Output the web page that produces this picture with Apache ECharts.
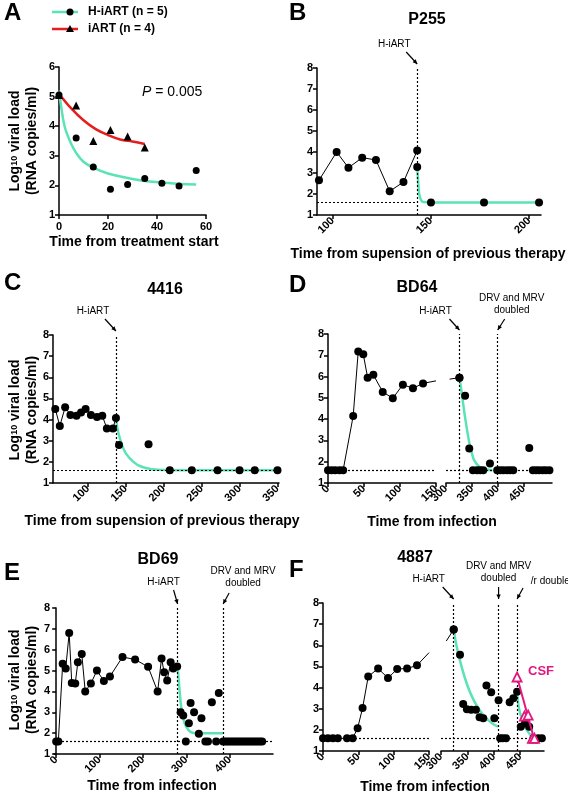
<!DOCTYPE html>
<html><head><meta charset="utf-8">
<script src="https://cdn.jsdelivr.net/npm/echarts@6/dist/echarts.min.js"></script>
<style>html,body{margin:0;padding:0;background:#fff}#c{width:568px;height:800px}</style>
</head><body><div id="c"></div>
<script>
const LOD = 1.6;
// Panel A
const aHX = [0,7,14,21,28,35,42,49,56];
const aHY = [5.05,3.6,2.62,1.87,2.03,2.23,2.07,1.98,2.5];
const aIX = [0,7,14,21,28,35];
const aIY = [5.05,4.7,3.5,3.87,3.65,3.28];
const aHFitX = [0,1,2,3,5,7,10,14,20,28,35,42,49,56];
const aHFitY = [5.2,4.6,4.1,3.8,3.4,3.1,2.8,2.6,2.4,2.25,2.15,2.1,2.05,2.03];
const aIFitX = [0,5,10,15,20,25,30,35];
const aIFitY = [5.1,4.6,4.2,3.9,3.7,3.55,3.48,3.4];
// Panel B (P255)
const bX = [93,102,108,115,122,129,136,143];
const bY = [2.65,4.0,3.25,3.73,3.62,2.13,2.57,4.07];
const bPostX = [143,150,177,205];
const bPostY = [3.28,1.6,1.6,1.6];
const bFitX = [143,143.5,144,145,146,150,177,205];
const bFitY = [3.3,2.6,2.0,1.7,1.62,1.6,1.6,1.6];
const bStart = 143;
// Panel C (4416)
const cX = [57,63,70,77,85,91,97,104,112,119,125,133,137];
const cY = [4.5,3.7,4.58,4.22,4.18,4.33,4.5,4.22,4.12,4.18,3.58,3.58,4.08];
const cPostX = [141,180,208,237,271,300,320,350];
const cPostY = [2.8,2.83,1.6,1.6,1.6,1.6,1.6,1.6];
const cFitX = [137,140,145,150,160,170,185,200,250,350];
const cFitY = [4.08,3.4,2.8,2.4,2.0,1.78,1.65,1.61,1.6,1.6];
const cStart = 137;
// Panel D (BD64)
const dX = [0,5,10,16,21,35,42,49,55,63,76,90,104,118,132,150];
const dY = [1.6,1.6,1.6,1.6,1.6,4.15,7.18,7.05,5.95,6.08,5.28,4.98,5.62,5.45,5.68,5.8];
const dRX = [307,326];
const dRY = [5.88,5.95];
const dPostX = [326,337,345,352,360,366,372,385,399,405,411,418,424,430,461,468,474,480,487,493,500];
const dPostY = [5.95,5.1,2.62,1.6,1.6,1.6,1.6,1.92,1.6,1.6,1.6,1.6,1.6,1.6,2.65,1.6,1.6,1.6,1.6,1.6,1.6];
const dFitX = [326,330,335,340,345,350,355,365,375,390];
const dFitY = [5.95,5.3,4.4,3.6,2.9,2.4,2.05,1.75,1.65,1.6];
const dStart = 326, dDouble = 400;
// Panel E (BD69)
const eX = [0,5,15,22,30,36,44,50,59,67,80,94,110,124,153,182,212,234,243,249,256,264,270,279];
const eY = [1.6,1.6,5.33,5.1,6.8,4.4,4.38,5.4,5.8,4.0,4.38,5.0,4.5,4.72,5.65,5.53,5.18,4.0,5.58,4.92,4.52,5.4,5.1,5.2];
const ePostX = [287,293,299,306,310,318,329,335,344,350,359,369,375,385,390,395,400,405,410,415,420,425,430,435,440,445,450,455,460,465,470,475];
const ePostY = [3.0,2.85,1.6,2.48,3.45,3.0,1.97,2.72,1.6,1.6,3.48,1.6,3.92,1.6,1.6,1.6,1.6,1.6,1.6,1.6,1.6,1.6,1.6,1.6,1.6,1.6,1.6,1.6,1.6,1.6,1.6,1.6];
const eFitX = [280,284,288,293,300,310,320,385];
const eFitY = [5.2,4.2,3.3,2.7,2.3,2.05,2.0,2.0];
const eStart = 280, eDouble = 385;
// Panel F (4887)
const fX = [0,7,14,21,34,42,49,56,64,78,92,105,119,133,150];
const fY = [1.6,1.6,1.6,1.6,1.6,1.6,2.08,3.03,4.52,4.9,4.45,4.88,4.9,5.05,5.65];
const fRX = [310,324];
const fRY = [6.2,6.75];
const fPostX = [324,336,342,349,357,366,373,380,386,395,401,409,412,417,423,430,437,444,451,459,467,475,484,491];
const fPostY = [6.75,5.55,3.22,2.98,2.95,2.95,2.6,2.55,4.1,3.78,2.55,3.4,1.6,1.6,1.6,3.3,3.5,3.8,2.15,2.3,2.15,1.6,1.6,1.6];
const fFit1X = [324,330,340,350,360,370,380,390,400,408];
const fFit1Y = [6.75,5.9,4.9,4.1,3.5,3.05,2.7,2.45,2.25,2.15];
const fFit2X = [444,447,452,458,465,472,480];
const fFit2Y = [3.8,3.1,2.6,2.2,1.9,1.7,1.62];
const fCsfX = [444,458,465,473,477];
const fCsfY = [4.5,2.65,2.7,1.6,1.6];
const fCsfLineX = [444,476];
const fCsfLineY = [4.5,1.6];
const fStart = 324, fDouble = 409, fRtv = 444;

const TEAL = '#5be3b6', RED = '#e41e1e', MAG = '#e3177f';
const FONT = 'Arial, "Liberation Sans", sans-serif';
const zip = (xs, ys) => xs.map((x, i) => [x, ys[i]]);

const grids = [
  {left:59, top:67, width:147, height:148},
  {left:317, top:68, width:224, height:147},
  {left:53, top:335, width:226, height:148},
  {left:328, top:334, width:108, height:149},
  {left:446, top:334, width:106, height:149},
  {left:54, top:608, width:219, height:146},
  {left:323, top:603, width:106, height:148},
  {left:441, top:603, width:103, height:148}
];
const axLine = {show:true, lineStyle:{color:'#000', width:1.5}};
const axTick = {show:true, inside:false, length:4, lineStyle:{color:'#000', width:1.5}};
const lab = {color:'#000', fontWeight:'bold', fontSize:11, fontFamily:FONT};
function xa(g, min, max, ticks, rot) {
  return {type:'value', gridIndex:g, min, max, splitLine:{show:false},
    axisLine:{...axLine, onZero:false}, axisTick:{...axTick, customValues:ticks},
    axisLabel:{...lab, rotate:rot, margin:rot?4:6, customValues:ticks}};
}
function ya(g, max, show) {
  return {type:'value', gridIndex:g, min:1, max, interval:1, show, splitLine:{show:false},
    axisLine:axLine, axisTick:axTick, axisLabel:{...lab, margin:4}};
}
const xAxis = [
  xa(0,0,60,[0,20,40,60],0),
  xa(1,92,206,[100,150,200],45),
  xa(2,54,352,[100,150,200,250,300,350],45),
  xa(3,0,150,[0,50,100,150],45),
  xa(4,300,505,[300,350,400,450],45),
  xa(5,-5,500,[0,100,200,300,400],45),
  xa(6,0,150,[0,50,100,150],45),
  xa(7,300,495,[300,350,400,450],45)
];
const yAxis = [ya(0,6,true), ya(1,8,true), ya(2,8,true), ya(3,8,true), ya(4,8,false), ya(5,8,true), ya(6,8,true), ya(7,8,false)];

const dotted = {color:'#000', type:[2,2], width:1.2};
const ml = (data) => ({silent:true, symbol:'none', label:{show:false}, lineStyle:dotted, data});
function dataLine(i, xs, ys, extra) {
  return Object.assign({type:'line', xAxisIndex:i, yAxisIndex:i, data:zip(xs, ys), symbol:'circle', symbolSize:8,
    itemStyle:{color:'#000', opacity:1}, lineStyle:{color:'#000', width:1}, z:3, silent:true, animation:false}, extra||{});
}
function scat(i, xs, ys, extra) {
  return Object.assign({type:'scatter', xAxisIndex:i, yAxisIndex:i, data:zip(xs, ys), symbol:'circle', symbolSize:8,
    itemStyle:{color:'#000', opacity:1}, z:4, silent:true, animation:false}, extra||{});
}
function fit(i, xs, ys, color) {
  return {type:'line', xAxisIndex:i, yAxisIndex:i, data:zip(xs, ys), smooth:0.4, showSymbol:false, symbol:'none',
    lineStyle:{color:color||TEAL, width:2.5}, z:2, silent:true, animation:false};
}
const noEnd = (xs, ys) => zip(xs, ys).map((p, k) => k === xs.length-1 ? {value:p, symbol:'none'} : p);
const noStart = (xs, ys) => zip(xs, ys).map((p, k) => k === 0 ? {value:p, symbol:'none'} : p);

const series = [
  fit(0, aHFitX, aHFitY), fit(0, aIFitX, aIFitY, RED),
  scat(0, aHX, aHY, {symbolSize:7}), scat(0, aIX, aIY, {symbol:'triangle', symbolSize:8}),
  dataLine(1, bX, bY, {markLine:ml([[{coord:[92,LOD]},{coord:[bStart,LOD]}], [{coord:[bStart,1]},{coord:[bStart,8]}]])}),
  fit(1, bFitX, bFitY), scat(1, bPostX, bPostY),
  dataLine(2, cX, cY, {markLine:ml([{xAxis:cStart},{yAxis:LOD}])}),
  fit(2, cFitX, cFitY), scat(2, cPostX, cPostY),
  {...dataLine(3, dX, dY), data:noEnd(dX, dY), markLine:ml([{yAxis:LOD}])},
  {...dataLine(4, dRX, dRY), data:noStart(dRX, dRY), markLine:ml([{xAxis:dStart},{xAxis:dDouble},{yAxis:LOD}])},
  fit(4, dFitX, dFitY), scat(4, dPostX, dPostY),
  dataLine(5, eX, eY, {markLine:ml([{xAxis:eStart},{xAxis:eDouble},{yAxis:LOD}])}),
  fit(5, eFitX, eFitY), scat(5, ePostX, ePostY),
  {...dataLine(6, fX, fY), data:noEnd(fX, fY), markLine:ml([{yAxis:LOD}])},
  {...dataLine(7, fRX, fRY), data:noStart(fRX, fRY), markLine:ml([{xAxis:fStart},{xAxis:fDouble},{xAxis:fRtv},{yAxis:LOD}])},
  fit(7, fFit1X, fFit1Y), fit(7, fFit2X, fFit2Y),
  scat(7, fPostX, fPostY),
  {type:'line', xAxisIndex:7, yAxisIndex:7, data:zip(fCsfLineX, fCsfLineY), symbol:'none', lineStyle:{color:MAG, width:2}, z:5, silent:true, animation:false},
  scat(7, fCsfX, fCsfY, {symbol:'triangle', symbolSize:9, itemStyle:{color:'#fff', borderColor:MAG, borderWidth:1.8, opacity:1}, z:6})
];

const chart = echarts.init(document.getElementById('c'), null, {renderer:'canvas'});
chart.setOption({animation:false, grid:grids, xAxis, yAxis, series});

const T = (text, x, y, size, weight, align, color) => ({type:'text', x, y, style:{text, fontSize:size, fontWeight:weight||'normal',
  fontFamily:FONT, fill:color||'#000', textAlign:align||'center', textVerticalAlign:'middle'}});
const g = [
  T('A',4,13,24,'bold','left'), T('B',289,13,24,'bold','left'), T('C',4,283,24,'bold','left'),
  T('D',289,285,24,'bold','left'), T('E',4,573,24,'bold','left'), T('F',289,570,24,'bold','left'),
  T('P255',427,20,16,'bold'), T('4416',165,290,16,'bold'), T('BD64',417,288,16,'bold'),
  T('BD69',158,560,16,'bold'), T('4887',415,558,16,'bold'),
  T('Time from treatment start',134,242,14,'bold'),
  T('Time from supension of previous therapy',428,254,14,'bold'),
  T('Time from supension of previous therapy',162,521,14,'bold'),
  T('Time from infection',432,522,14,'bold'),
  T('Time from infection',152,786,14,'bold'),
  T('Time from infection',425,787,14,'bold'),
  T('H-iART (n = 5)',88,12,12,'bold','left'), T('iART (n = 4)',88,29,12,'bold','left'),
  {type:'line', shape:{x1:52,y1:12,x2:78,y2:12}, style:{stroke:TEAL, lineWidth:2.5}},
  {type:'line', shape:{x1:52,y1:29,x2:78,y2:29}, style:{stroke:RED, lineWidth:2.5}},
  {type:'circle', shape:{cx:70,cy:12,r:3.5}, style:{fill:'#000'}},
  {type:'polygon', shape:{points:[[70,25],[66,32],[74,32]]}, style:{fill:'#000'}},
  {type:'text', x:142, y:92, style:{rich:{i:{fontStyle:'italic', fontSize:14, fontFamily:FONT}, n:{fontSize:14, fontFamily:FONT}},
    text:'{i|P}{n| = 0.005}', textVerticalAlign:'middle'}},
];
function yTitle(cy) {
  const rich = {a:{fontSize:14, fontWeight:'bold', fontFamily:FONT, fill:'#000', height:16},
                s:{fontSize:9, fontWeight:'bold', fontFamily:FONT, fill:'#000', height:16, verticalAlign:'bottom'}};
  g.push({type:'text', x:15, y:cy, rotation:Math.PI/2, style:{text:'{a|Log}{s|10}{a| viral load}', rich, textAlign:'center', textVerticalAlign:'middle'}});
  g.push({type:'text', x:32, y:cy, rotation:Math.PI/2, style:{text:'(RNA copies/ml)', fontSize:14, fontWeight:'bold', fontFamily:FONT, fill:'#000', textAlign:'center', textVerticalAlign:'middle'}});
}
yTitle(141); yTitle(410); yTitle(680);
function arrow(gi, xv, dx, dy, text, tdx, tdy) {
  const p = chart.convertToPixel({gridIndex:gi}, [xv, 8]);
  const ex = p[0], ey = p[1] - 4, sx = ex + dx, sy = ey + dy;
  const ang = Math.atan2(ey - sy, ex - sx), L = 5;
  g.push({type:'line', shape:{x1:sx,y1:sy,x2:ex,y2:ey}, style:{stroke:'#000', lineWidth:1.2}});
  g.push({type:'polygon', shape:{points:[[ex,ey],[ex-L*Math.cos(ang-0.45),ey-L*Math.sin(ang-0.45)],[ex-L*Math.cos(ang+0.45),ey-L*Math.sin(ang+0.45)]]}, style:{fill:'#000'}});
  g.push({type:'text', x:sx+tdx, y:sy+tdy, style:{text, fontSize:10, fontFamily:FONT, fill:'#000', textAlign:'center', textVerticalAlign:'bottom', lineHeight:12}});
}
arrow(1, bStart, -11, -12, 'H-iART', -12, -2);
arrow(2, cStart, -11, -12, 'H-iART', -12, -2);
arrow(4, dStart, -10, -11, 'H-iART', -14, -2);
arrow(4, dDouble, 7, -11, 'DRV and MRV\ndoubled', 7, -3);
arrow(5, eStart, -4, -14, 'H-iART', -10, -2);
arrow(5, eDouble, 6, -11, 'DRV and MRV\ndoubled', 14, -4);
arrow(7, fStart, -11, -12, 'H-iART', -14, -2);
arrow(7, fDouble, 0, -12, 'DRV and MRV\ndoubled', 0, -3);
arrow(7, fRtv, 6, -11, '/r doubled', 30, -1);
const csf = chart.convertToPixel({gridIndex:7}, [444, 4.5]);
g.push(T('CSF', csf[0] + 24, csf[1] - 6, 13, 'bold', 'center', MAG));
chart.setOption({graphic:g});
</script></body></html>
